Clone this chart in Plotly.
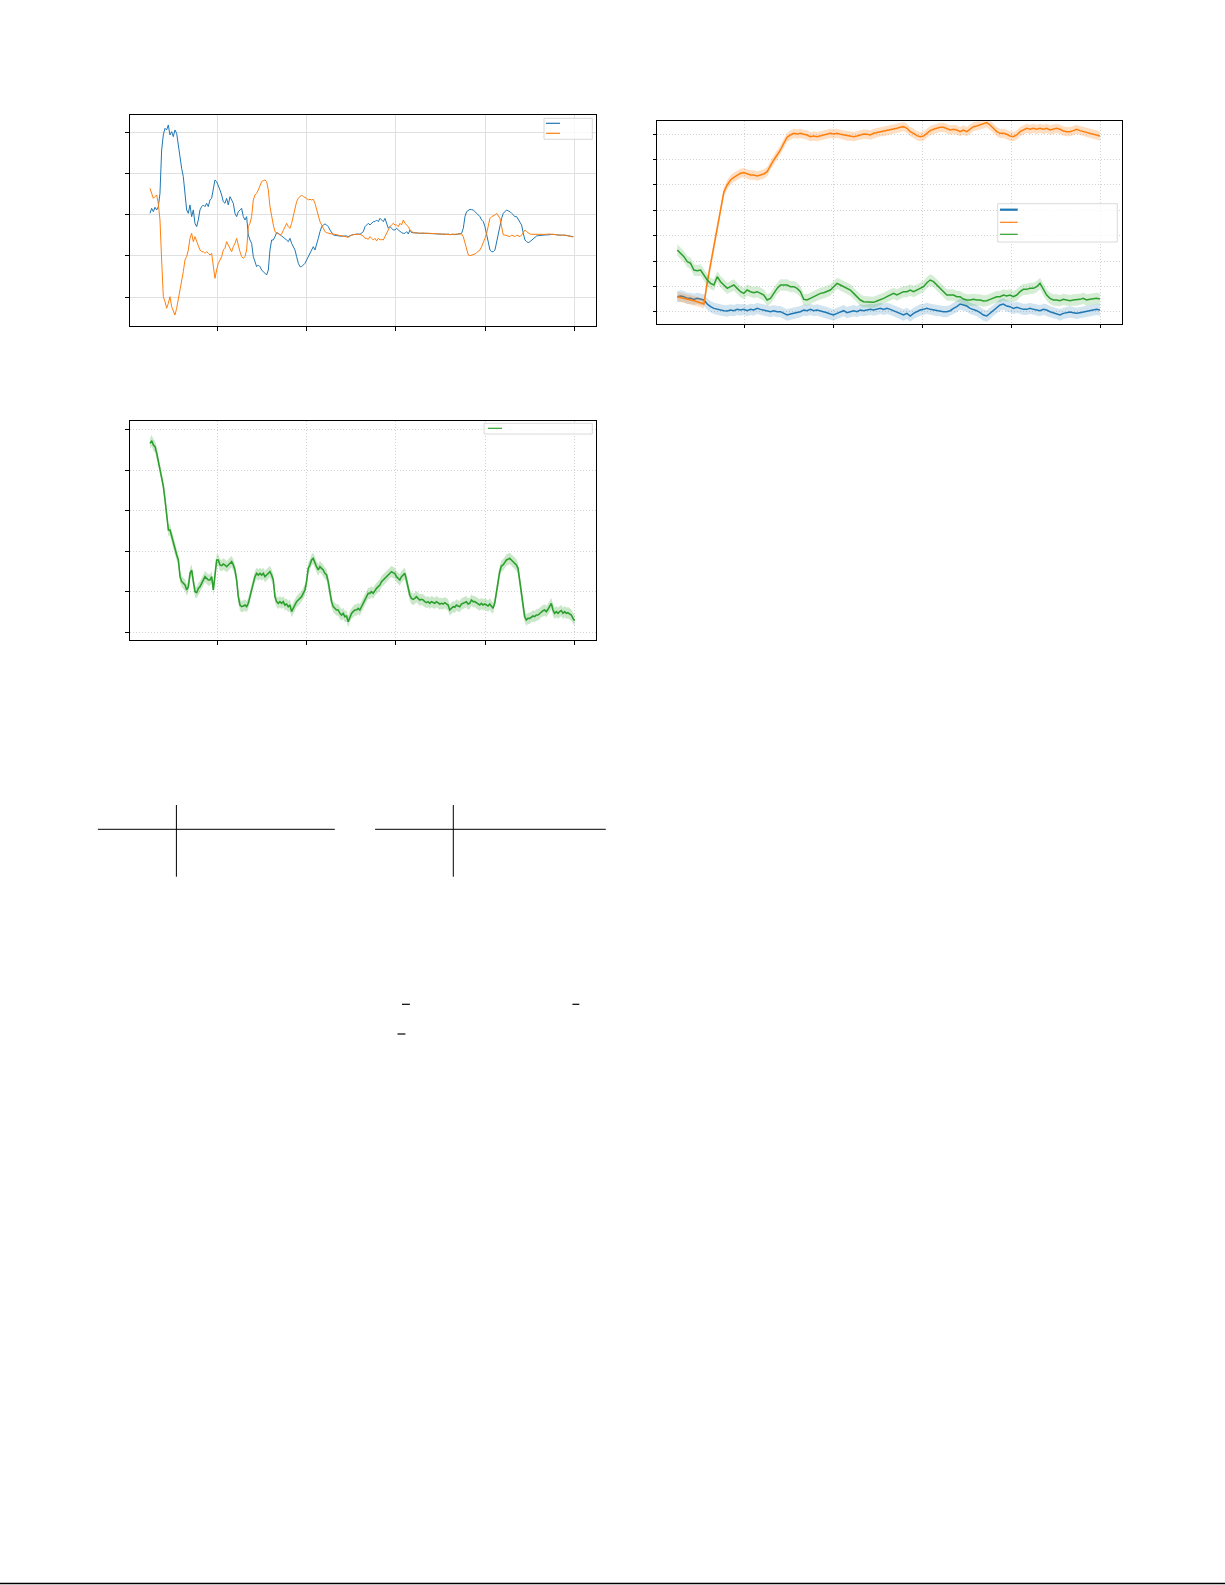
'''
Three training-curve panels on a page (text stripped):
- top left: two mirrored weight traces
- top right: three mean curves with std bands
- bottom left: one mean curve with std band
plus the rules of two empty tables further down the page.
'''

import numpy as np
import plotly.graph_objects as go

W, H = 1225, 1585

# ---------------- panel 1 : two traces ----------------
blue1 = [0.03, 0.18, 0.08, 0.21, 0.13, 0.23, 0.63, 1.93, 2.38, 2.58,
         2.53, 2.68, 2.38, 2.48, 2.33, 2.53, 2.43, 2.03, 1.73, 1.38,
         1.13, 0.53, 0.13, 0.03, 0.28, -0.07, 0.13, -0.27, -0.37, -0.17,
         0.13, 0.23, 0.28, 0.23, 0.33, 0.23, 0.43, 0.48, 0.78, 1.03,
         0.98, 0.88, 0.73, 0.58, 0.38, 0.33, 0.48, 0.28, 0.53, 0.43,
         0.33, 0.03, -0.07, 0.08, 0.13, 0.18, -0.07, -0.17, -0.07, -0.62,
         -0.77, -0.87, -1.27, -1.42, -1.57, -1.52, -1.57, -1.67, -1.72, -1.77,
         -1.82, -1.67, -1.07, -0.77, -0.77, -0.67, -0.55, -0.57, -0.60, -0.65,
         -0.69, -0.72, -0.77, -0.82, -0.72, -0.87, -0.97, -1.07, -1.27, -1.47,
         -1.57, -1.57, -1.52, -1.47, -1.37, -1.27, -1.17, -1.02, -0.97, -1.07,
         -0.92, -0.72, -0.52, -0.37, -0.32, -0.29, -0.32, -0.37, -0.47, -0.57,
         -0.62, -0.63, -0.64, -0.65, -0.65, -0.66, -0.65, -0.64, -0.65, -0.67,
         -0.64, -0.62, -0.61, -0.60, -0.61, -0.59,
         -0.60, -0.57, -0.52, -0.37, -0.32, -0.27, -0.32, -0.27, -0.22, -0.22,
         -0.17, -0.22, -0.12, -0.17, -0.22, -0.12, -0.27, -0.42, -0.37, -0.42,
         -0.47, -0.47, -0.42, -0.47, -0.52, -0.55, -0.57, -0.57, -0.52, -0.59,
         -0.47, -0.55,
         -0.55, -0.56, -0.55, -0.56, -0.57, -0.57, -0.56, -0.57, -0.57, -0.58,
         -0.57, -0.58, -0.58, -0.59, -0.58, -0.59, -0.59, -0.60, -0.59, -0.60,
         -0.60, -0.59, -0.61, -0.60, -0.60, -0.61, -0.60, -0.60, -0.59, -0.57,
         -0.42, -0.07, 0.08, 0.13, 0.15, 0.14, 0.13, 0.08, 0.03, -0.02,
         -0.07, -0.17, -0.22, -0.37, -0.62, -0.87, -1.07, -1.12, -1.12, -1.07,
         -0.82, -0.57, -0.32, -0.12, 0.03, 0.08, 0.13, 0.10, 0.08, 0.03,
         -0.02, -0.07, -0.07, -0.17, -0.27, -0.32, -0.57, -0.77, -0.82, -0.85,
         -0.82, -0.77, -0.72, -0.67, -0.65, -0.64, -0.63, -0.63, -0.62, -0.62,
         -0.62, -0.61, -0.60, -0.60, -0.60, -0.61, -0.62, -0.62, -0.62, -0.63,
         -0.62, -0.63, -0.62, -0.64, -0.65, -0.66, -0.67]

orange1 = [0.78, 0.63, 0.48, 0.53, 0.58, 0.33, -0.17, -1.37, -2.47, -2.62,
           -2.82, -2.67, -2.47, -2.77, -2.87, -3.02, -2.82, -2.57, -2.32, -2.07,
           -1.72, -1.37, -1.27, -1.07, -0.72, -0.57, -0.82, -0.67, -0.82, -0.97,
           -1.07, -1.12, -1.12, -1.17, -1.12, -1.17, -1.22, -1.17, -1.57, -1.92,
           -1.67, -1.47, -1.37, -1.27, -1.07, -1.02, -0.82, -0.92, -1.07, -1.12,
           -0.97, -0.87, -0.72, -0.97, -1.12, -1.27, -1.32, -1.27, -1.07, -0.37,
           -0.27, -0.07, 0.43, 0.58, 0.63, 0.73, 0.88, 0.98, 1.01, 1.03,
           0.98, 0.73, 0.23, -0.07, -0.32, -0.52, -0.55, -0.59, -0.62, -0.59,
           -0.47, -0.37, -0.27, -0.37, -0.42, -0.27, -0.07, 0.18, 0.38, 0.48,
           0.53, 0.58, 0.53, 0.51, 0.48, 0.43, 0.45, 0.43, 0.45, 0.33,
           0.13, -0.02, -0.22, -0.32, -0.42, -0.52, -0.55, -0.57, -0.58, -0.59,
           -0.59, -0.60, -0.61, -0.62, -0.63, -0.65, -0.64, -0.65, -0.67, -0.69,
           -0.65, -0.62, -0.61, -0.60, -0.59, -0.60,
           -0.60, -0.62, -0.65, -0.72, -0.72, -0.75, -0.67, -0.72, -0.77, -0.72,
           -0.80, -0.72, -0.77, -0.75, -0.77, -0.67, -0.57, -0.42, -0.37, -0.32,
           -0.27, -0.32, -0.32, -0.37, -0.27, -0.32, -0.17, -0.27, -0.32, -0.37,
           -0.47, -0.52, -0.55,
           -0.56, -0.55, -0.57, -0.56, -0.57, -0.56, -0.57, -0.58, -0.57, -0.57,
           -0.58, -0.59, -0.58, -0.58, -0.59, -0.59, -0.60, -0.59, -0.60, -0.59,
           -0.60, -0.61, -0.60, -0.60, -0.61, -0.60, -0.59, -0.60, -0.59,
           -0.67, -0.87, -1.07, -1.22, -1.24, -1.23, -1.20, -1.19, -1.15, -1.12,
           -1.07, -0.97, -0.87, -0.72, -0.57, -0.32, -0.12, -0.07, -0.05, -0.02,
           0.03, -0.07, -0.12, -0.37, -0.62, -0.62, -0.64, -0.65, -0.67, -0.62,
           -0.65, -0.67, -0.62, -0.65, -0.67, -0.62, -0.52, -0.47, -0.52, -0.57,
           -0.59, -0.60, -0.60, -0.61, -0.62, -0.62, -0.62, -0.61, -0.61, -0.60,
           -0.60, -0.59, -0.59, -0.60, -0.59, -0.60, -0.61, -0.62, -0.62, -0.63,
           -0.63, -0.64, -0.63, -0.65, -0.65, -0.67, -0.68]

# ---------------- panel 2 : three curves with bands ----------------
blue2 = [0.43, 0.45, 0.43, 0.38, 0.38, 0.35, 0.38, 0.35, 0.33, 0.21,
         0.13, 0.08, 0.05, 0.03, 0.01, 0.00, 0.03, 0.01, 0.05, 0.03,
         0.05, 0.01, 0.05, 0.03, 0.08, 0.05, 0.03, 0.01, -0.02, 0.01,
         -0.02, -0.02, -0.07, -0.12, -0.09, -0.07, -0.05, -0.02, 0.03, 0.01,
         0.05, 0.01, 0.03, 0.01, -0.02, -0.05, -0.09, -0.12, -0.07, -0.02,
         0.01, -0.05, -0.02, 0.01, -0.02, 0.03, 0.01, 0.03, 0.05, 0.03,
         0.05, 0.08, 0.05, 0.08, 0.05, 0.01, -0.02, -0.07, -0.12, -0.07,
         -0.15, -0.07, -0.02, 0.03, 0.05, 0.08, 0.05, 0.03, 0.01, 0.01,
         -0.02, -0.02, 0.01, 0.08, 0.13, 0.21, 0.18, 0.15, 0.08, 0.05,
         0.01, -0.05, -0.12, -0.15, -0.07, 0.03, 0.11, 0.18, 0.21, 0.15,
         0.13, 0.08, 0.11, 0.08, 0.05, 0.05, 0.08, 0.05, 0.03, 0.01,
         0.05, 0.03, -0.02, -0.05, -0.07, -0.12, -0.07, -0.05, -0.03, -0.05,
         -0.07, -0.05, -0.03, -0.02, 0.01, 0.03, 0.05, 0.03]

orange2 = [0.43, 0.41, 0.38, 0.35, 0.33, 0.31, 0.28, 0.25, 0.21, 0.86,
           1.40, 1.94, 2.48, 3.03, 3.57, 3.78, 3.93, 4.01, 4.08, 4.13,
           4.15, 4.11, 4.08, 4.08, 4.05, 4.08, 4.11, 4.18, 4.38, 4.53,
           4.68, 4.83, 5.03, 5.21, 5.28, 5.33, 5.31, 5.33, 5.30, 5.28,
           5.23, 5.25, 5.23, 5.25, 5.28, 5.31, 5.33, 5.31, 5.33, 5.30,
           5.28, 5.25, 5.25, 5.23, 5.25, 5.28, 5.31, 5.30, 5.28, 5.33,
           5.35, 5.38, 5.38, 5.40, 5.43, 5.45, 5.48, 5.51, 5.53, 5.48,
           5.38, 5.33, 5.26, 5.23, 5.25, 5.33, 5.41, 5.45, 5.48, 5.51,
           5.51, 5.48, 5.43, 5.45, 5.43, 5.38, 5.43, 5.38, 5.45, 5.53,
           5.55, 5.58, 5.61, 5.65, 5.58, 5.48, 5.38, 5.33, 5.33, 5.30,
           5.25, 5.23, 5.28, 5.38, 5.43, 5.48, 5.45, 5.48, 5.45, 5.48,
           5.45, 5.48, 5.43, 5.45, 5.48, 5.45, 5.40, 5.38, 5.38, 5.41,
           5.45, 5.41, 5.38, 5.35, 5.33, 5.31, 5.28, 5.25]

green2 = [1.83, 1.73, 1.63, 1.48, 1.43, 1.23, 1.21, 1.23, 1.08, 0.93,
          0.83, 0.78, 1.03, 0.88, 0.78, 0.68, 0.73, 0.78, 0.68, 0.58,
          0.53, 0.63, 0.58, 0.55, 0.58, 0.53, 0.48, 0.33, 0.38, 0.53,
          0.68, 0.78, 0.78, 0.78, 0.73, 0.73, 0.68, 0.58, 0.35, 0.33,
          0.38, 0.43, 0.48, 0.53, 0.55, 0.58, 0.63, 0.73, 0.83, 0.78,
          0.73, 0.68, 0.63, 0.53, 0.43, 0.33, 0.28, 0.28, 0.28, 0.26,
          0.30, 0.33, 0.38, 0.43, 0.48, 0.53, 0.48, 0.53, 0.58, 0.58,
          0.63, 0.58, 0.63, 0.68, 0.73, 0.85, 0.93, 0.88, 0.78, 0.68,
          0.58, 0.48, 0.48, 0.48, 0.43, 0.43, 0.36, 0.33, 0.33, 0.35,
          0.33, 0.33, 0.30, 0.31, 0.35, 0.38, 0.43, 0.43, 0.48, 0.45,
          0.48, 0.43, 0.48, 0.58, 0.65, 0.65, 0.68, 0.68, 0.73, 0.83,
          0.63, 0.48, 0.38, 0.33, 0.33, 0.31, 0.35, 0.33, 0.31, 0.33,
          0.33, 0.35, 0.38, 0.33, 0.35, 0.36, 0.38, 0.36]

# band half widths
blue2_sd = 0.17
orange2_sd = 0.14
green2_sd = 0.17

# ---------------- panel 3 : one curve with band ----------------
green3 = [5.66, 5.74, 5.61, 5.56, 5.36, 5.11, 4.91, 4.71, 4.36, 3.96,
          3.56, 3.06, 3.06, 2.86, 2.66, 2.46, 2.31, 2.16, 1.66, 1.51,
          1.46, 1.41, 1.26, 1.36, 1.76, 1.86, 1.51, 1.21, 1.18, 1.31,
          1.36, 1.46, 1.56, 1.66, 1.61, 1.56, 1.56, 1.66, 1.26, 1.66,
          2.16, 2.16, 2.01, 1.99, 2.04, 2.01, 1.96, 2.01, 2.06, 2.11,
          2.01, 1.86, 1.56, 1.06, 0.81, 0.76, 0.78, 0.81, 0.76, 0.86,
          1.06, 1.26, 1.51, 1.66, 1.76, 1.71, 1.76, 1.71, 1.76, 1.66,
          1.71, 1.76, 1.81, 1.71, 1.56, 1.06, 0.91, 0.86, 0.91, 0.86,
          0.91, 0.81, 0.84, 0.76, 0.81, 0.61, 0.71, 0.81, 0.91, 0.96,
          1.01, 1.06, 1.16, 1.26, 1.51, 1.91, 2.01, 2.16, 2.21, 2.06,
          1.96, 1.86, 1.96, 1.91, 1.86, 1.76, 1.71, 1.51, 1.21, 0.91,
          0.76, 0.71, 0.66, 0.66, 0.56, 0.51, 0.56, 0.46, 0.48, 0.31,
          0.46, 0.56, 0.61, 0.66, 0.66, 0.71, 0.66, 0.76, 0.86, 0.96,
          1.06, 1.16, 1.16, 1.21, 1.16, 1.26, 1.31, 1.36, 1.41, 1.51,
          1.56, 1.61, 1.66, 1.71, 1.78, 1.81, 1.78, 1.76, 1.66, 1.61,
          1.56, 1.66, 1.71, 1.76, 1.56, 1.31, 1.11, 1.01, 0.98, 1.01,
          1.06, 1.01, 0.96, 0.98, 0.96, 0.91, 0.88, 0.91, 0.86, 0.91,
          0.88, 0.86, 0.91, 0.88, 0.84, 0.86, 0.84, 0.88, 0.84, 0.81,
          0.66, 0.71, 0.76, 0.74, 0.81, 0.78, 0.76, 0.84, 0.86, 0.88,
          0.91, 0.84, 0.86, 0.96, 0.91, 0.91, 0.88, 0.84, 0.81, 0.86,
          0.81, 0.84, 0.81, 0.78, 0.84, 0.76, 0.71, 0.86, 1.21, 1.46,
          1.81, 1.98, 2.01, 2.08, 2.16, 2.18, 2.21, 2.16, 2.11, 2.06,
          2.01, 1.91, 1.56, 1.16, 0.76, 0.46, 0.36, 0.41, 0.41, 0.46,
          0.48, 0.46, 0.51, 0.51, 0.56, 0.61, 0.64, 0.66, 0.61, 0.68,
          0.76, 0.86, 0.66, 0.56, 0.61, 0.56, 0.61, 0.64, 0.56, 0.61,
          0.56, 0.58, 0.54, 0.51, 0.41, 0.34]
green3_sd = 0.17

# x ticks shared by the three panels, y tick positions per panel
x_ticks = [200, 400, 600, 800, 1000]
y1_ticks = [-2.49, -1.25, 0, 1.23, 2.46]
y2_ticks = [0, 0.75, 1.50, 2.27, 3.03, 3.78, 4.55, 5.30]
y3_ticks = [0, 1.22, 2.43, 3.65, 4.86, 6.08]

BLUE, ORANGE, GREEN = '#1f77b4', '#ff7f0e', '#2ca02c'


def steps(series, start, stop):
    # evenly spaced episode index for a series
    return np.linspace(start, stop, len(series))


def band(x, y, sd, color, xa, ya):
    # shaded mean +/- sd area
    y = np.array(y)
    return go.Scatter(
        x=np.concatenate([x, x[::-1]]),
        y=np.concatenate([y + sd, (y - sd)[::-1]]),
        fill='toself', fillcolor=color, line=dict(width=0),
        mode='lines', hoverinfo='skip', showlegend=False,
        xaxis=xa, yaxis=ya)


def line(x, y, color, width, xa, ya):
    return go.Scatter(x=x, y=y, mode='lines', line=dict(color=color, width=width),
                      showlegend=False, xaxis=xa, yaxis=ya)


x1b = steps(blue1, 49.1, 997.7)
x1o = steps(orange1, 49.1, 997.7)
x2 = steps(blue2, 49.4, 999.1)
x3 = steps(green3, 49.3, 1000.7)

traces = [
    line(x1b, blue1, BLUE, 1, 'x', 'y'),
    line(x1o, orange1, ORANGE, 1, 'x', 'y'),
    band(x2, blue2, blue2_sd, 'rgba(31,119,180,0.2)', 'x2', 'y2'),
    line(x2, blue2, BLUE, 1.5, 'x2', 'y2'),
    band(x2, orange2, orange2_sd, 'rgba(255,127,14,0.25)', 'x2', 'y2'),
    line(x2, orange2, ORANGE, 1.5, 'x2', 'y2'),
    band(x2, green2, green2_sd, 'rgba(44,160,44,0.2)', 'x2', 'y2'),
    line(x2, green2, GREEN, 1.5, 'x2', 'y2'),
    band(x3, green3, green3_sd, 'rgba(44,160,44,0.25)', 'x3', 'y3'),
    line(x3, green3, GREEN, 1.6, 'x3', 'y3'),
]


def px(v):
    return v / W


def py(v):
    return 1 - v / H


def axis(dom, rng, ticks, dotted, anchor):
    return dict(domain=dom, range=rng, autorange=False, tickvals=ticks,
                showticklabels=False, ticks='outside', ticklen=3.5, tickwidth=0.8,
                tickcolor='black', showline=True, linecolor='black', linewidth=1,
                mirror=True, zeroline=False, showgrid=True,
                gridcolor='#d2d2d2' if dotted else '#e0e0e0',
                gridwidth=0.8, griddash='1px,2px' if dotted else 'solid',
                anchor=anchor)


# legend boxes, table rules and the page rule, in page pixels
shapes = []


def seg(x0, y0, x1, y1, color='black', width=1):
    shapes.append(dict(type='line', xref='paper', yref='paper',
                       x0=px(x0), y0=py(y0), x1=px(x1), y1=py(y1),
                       line=dict(color=color, width=width)))


def box(x0, y0, x1, y1):
    shapes.append(dict(type='rect', xref='paper', yref='paper',
                       x0=px(x0), y0=py(y0), x1=px(x1), y1=py(y1),
                       fillcolor='rgba(255,255,255,0.8)',
                       line=dict(color='#d0d0d0', width=0.8)))


# legend of panel 1
box(544, 118.3, 592.3, 139.3)
seg(546, 123.3, 560, 123.3, BLUE, 1.2)
seg(546, 133.3, 560, 133.3, ORANGE, 1.2)
# legend of panel 2
box(997.7, 203.7, 1117.3, 242)
seg(1000, 209.7, 1017.7, 209.7, BLUE, 2.2)
seg(1000, 222.3, 1017.7, 222.3, ORANGE, 1.2)
seg(1000, 234.3, 1017.7, 234.3, GREEN, 1.2)
# legend of panel 3
box(484, 423.3, 592.3, 434)
seg(488, 428.3, 502, 428.3, GREEN, 1.2)

# two empty tables
seg(97.9, 829.3, 334.8, 829.3)
seg(176.4, 805, 176.4, 876.7)
seg(375.1, 829.3, 605.8, 829.3)
seg(453.3, 805, 453.3, 876.7)
# stray minus signs of the stripped text
seg(402.0, 1004.3, 409.9, 1004.3, width=1.2)
seg(572.4, 1004.3, 579.3, 1004.3, width=1.2)
seg(397.5, 1034, 405.4, 1034, width=1.2)
# page rule
seg(0, 1583.5, W, 1583.5, width=1.5)

fig = go.Figure(data=traces)
fig.update_layout(
    width=W, height=H, autosize=False,
    margin=dict(l=0, r=0, t=0, b=0),
    paper_bgcolor='white', plot_bgcolor='white',
    showlegend=False,
    xaxis=axis([px(129.5), px(596)], [3.2, 1048.6], x_ticks, False, 'y'),
    yaxis=axis([py(326), py(115.3)], [-3.35, 2.97], y1_ticks, False, 'x'),
    xaxis2=axis([px(657.3), px(1122.3)], [4.5, 1049.4], x_ticks, True, 'y2'),
    yaxis2=axis([py(323.7), py(121.3)], [-0.38, 5.69], y2_ticks, True, 'x2'),
    xaxis3=axis([px(129.5), px(596)], [3.2, 1048.6], x_ticks, True, 'y3'),
    yaxis3=axis([py(640), py(420.7)], [-0.24, 6.34], y3_ticks, True, 'x3'),
    shapes=shapes,
)

fig.write_html("out.html", config={'displayModeBar': False},
               post_script="document.body.style.margin='0';")
